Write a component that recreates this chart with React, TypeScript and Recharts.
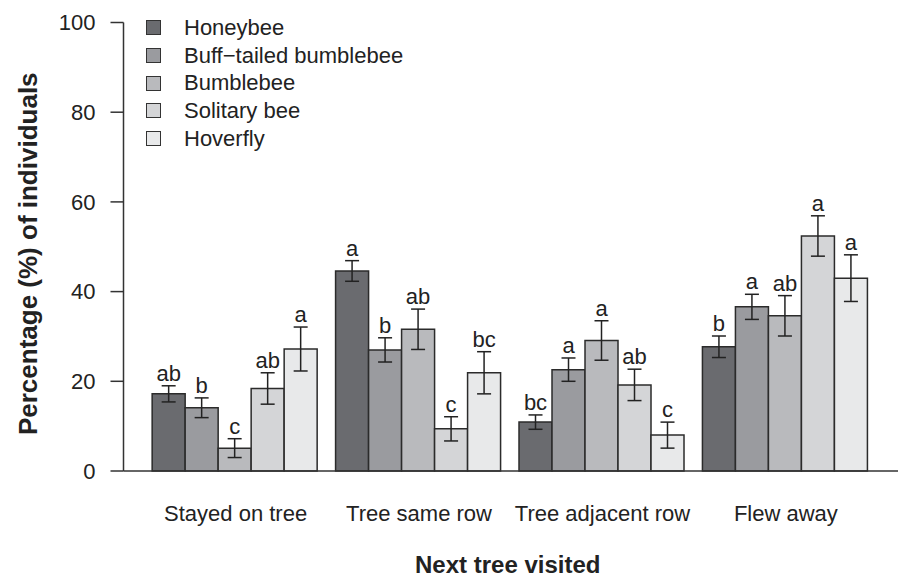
import React from 'react';
import { BarChart, Bar, XAxis, YAxis, ErrorBar, LabelList, Legend, Label } from 'recharts';

const FONT = '"Liberation Sans", Arial, Helvetica, sans-serif';

const categories = ['Stayed on tree', 'Tree same row', 'Tree adjacent row', 'Flew away'];
const seriesNames = ['Honeybee', 'Buff\u2212tailed bumblebee', 'Bumblebee', 'Solitary bee', 'Hoverfly'];

const honeybee = [17.2, 44.6, 10.9, 27.7];
const honeybeeSe = [1.8, 2.3, 1.6, 2.4];
const honeybeeLetters = ['ab', 'a', 'bc', 'b'];

const buffTailed = [14.1, 27.0, 22.6, 36.6];
const buffTailedSe = [2.2, 2.7, 2.6, 2.8];
const buffTailedLetters = ['b', 'b', 'a', 'a'];

const bumblebee = [5.1, 31.6, 29.1, 34.6];
const bumblebeeSe = [2.1, 4.5, 4.4, 4.5];
const bumblebeeLetters = ['c', 'ab', 'a', 'ab'];

const solitary = [18.4, 9.4, 19.2, 52.4];
const solitarySe = [3.5, 2.7, 3.5, 4.5];
const solitaryLetters = ['ab', 'c', 'ab', 'a'];

const hoverfly = [27.2, 21.9, 8.0, 43.0];
const hoverflySe = [4.9, 4.7, 2.9, 5.2];
const hoverflyLetters = ['a', 'bc', 'c', 'a'];

const yTicks = [0, 20, 40, 60, 80, 100];

const values = [honeybee, buffTailed, bumblebee, solitary, hoverfly];
const errors = [honeybeeSe, buffTailedSe, bumblebeeSe, solitarySe, hoverflySe];
const letters = [honeybeeLetters, buffTailedLetters, bumblebeeLetters, solitaryLetters, hoverflyLetters];
const colors = ['#6a6b6f', '#9a9b9f', '#b9babd', '#d4d5d7', '#e8e9ea'];

const data = categories.map((name, i) => {
  const row: any = { name };
  values.forEach((vals, s) => {
    row['v' + s] = vals[i];
    row['e' + s] = errors[s][i];
    row['l' + s] = letters[s][i];
  });
  return row;
});

// letters sit just above the error bar cap
const letterLabel = (s: number) => (props: any) => {
  const vb = props.viewBox && props.viewBox.width != null ? props.viewBox : props;
  let idx = props.index;
  if (idx == null && props.payload) idx = categories.indexOf(props.payload.name);
  if (idx == null || idx < 0) return null;
  const val = values[s][idx];
  const k = Math.abs(vb.height) / val;
  const top = vb.y - errors[s][idx] * k;
  return (
    <text
      x={vb.x + vb.width / 2}
      y={top - 5}
      textAnchor="middle"
      fontSize={22}
      fontFamily={FONT}
      fill="#222"
    >
      {letters[s][idx]}
    </text>
  );
};

const renderLegend = () => (
  <div style={{ fontFamily: FONT, fontSize: 22, color: '#222' }}>
    {seriesNames.map((n, i) => (
      <div key={n} style={{ display: 'flex', alignItems: 'center', height: 27.7, whiteSpace: 'nowrap' }}>
        <span
          style={{
            flexShrink: 0,
            width: 13,
            height: 13,
            border: '1.5px solid #333',
            background: colors[i],
            marginRight: 23,
          }}
        />
        <span style={{ lineHeight: '27.7px' }}>{n}</span>
      </div>
    ))}
  </div>
);

const YTitle = (props: any) => {
  const vb = props.viewBox;
  const cy = vb.y + vb.height / 2 + 7;
  return (
    <text
      transform={`translate(${37}, ${cy}) rotate(-90)`}
      textAnchor="middle"
      fontSize={26}
      fontWeight="bold"
      fontFamily={FONT}
      fill="#222"
    >
      Percentage (%) of individuals
    </text>
  );
};

const XTitle = (props: any) => {
  const vb = props.viewBox;
  return (
    <text
      x={vb.x + vb.width / 2 - 3}
      y={vb.y + vb.height - 5}
      textAnchor="middle"
      fontSize={24}
      fontWeight="bold"
      fontFamily={FONT}
      fill="#222"
    >
      Next tree visited
    </text>
  );
};

export default function App() {
  return (
    <div style={{ position: 'absolute', left: 0, top: 0, width: 899, height: 578, background: '#fff' }}>
      <BarChart
        width={899}
        height={578}
        data={data}
        margin={{ top: 22.5, right: 1, bottom: 0, left: 0 }}
        barCategoryGap="4.5%"
        barGap={0}
      >
        <XAxis
          dataKey="name"
          height={107}
          padding={{ left: 20.4, right: 20.4 }}
          axisLine={{ stroke: '#333', strokeWidth: 1.5 }}
          tickLine={false}
          tickMargin={28}
          interval={0}
          tick={{ fontSize: 22, fill: '#222', fontFamily: FONT }}
        >
          <Label content={XTitle} />
        </XAxis>
        <YAxis
          width={123.5}
          domain={[0, 100]}
          ticks={yTicks}
          interval={0}
          axisLine={{ stroke: '#333', strokeWidth: 1.5 }}
          tickLine={{ stroke: '#333', strokeWidth: 1.5 }}
          tickSize={13}
          tickMargin={15}
          tick={{ fontSize: 22, fill: '#222', fontFamily: FONT }}
        >
          <Label content={YTitle} />
        </YAxis>
        <Legend
          layout="vertical"
          align="center"
          verticalAlign="middle"
          content={renderLegend}
          wrapperStyle={{ left: 146, top: 14, width: 'auto', right: 'auto', bottom: 'auto' }}
        />
        {seriesNames.map((n, s) => (
          <Bar
            key={n}
            dataKey={'v' + s}
            name={n}
            fill={colors[s]}
            stroke="#2b2b2b"
            strokeWidth={1.5}
            isAnimationActive={false}
          >
            <ErrorBar dataKey={'e' + s} width={7} stroke="#222" strokeWidth={1.5} isAnimationActive={false} />
            <LabelList dataKey={'l' + s} content={letterLabel(s)} />
          </Bar>
        ))}
      </BarChart>
    </div>
  );
}
